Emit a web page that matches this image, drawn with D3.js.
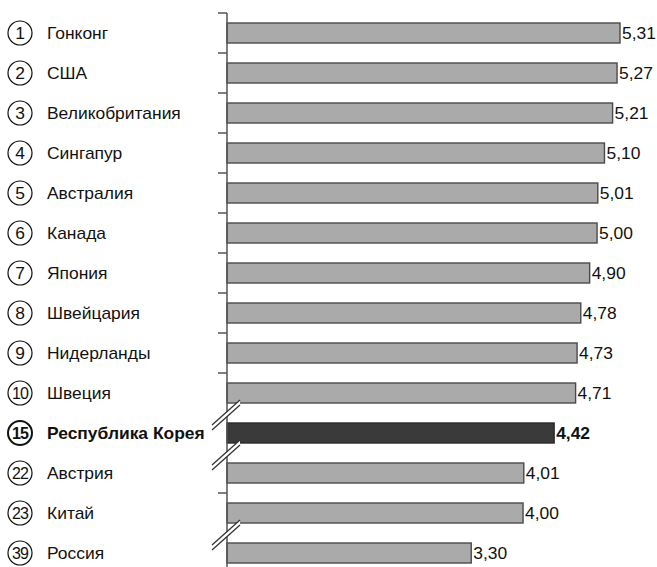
<!DOCTYPE html>
<html>
<head>
<meta charset="utf-8">
<script src="https://cdn.jsdelivr.net/npm/d3@7"></script>
<style>
body { margin: 0; background: #fff; }
svg { display: block; font-family: "Liberation Sans", Arial, sans-serif; }
</style>
</head>
<body>
<svg id="chart" width="657" height="567"></svg>
<script>
// данные
var ranks = ['1','2','3','4','5','6','7','8','9','10','15','22','23','39'];
var countries = ['Гонконг','США','Великобритания','Сингапур','Австралия','Канада','Япония',
    'Швейцария','Нидерланды','Швеция','Республика Корея','Австрия','Китай','Россия'];
var values = [5.31, 5.27, 5.21, 5.10, 5.01, 5.00, 4.90, 4.78, 4.73, 4.71, 4.42, 4.01, 4.00, 3.30];
var labels = ['5,31','5,27','5,21','5,10','5,01','5,00','4,90','4,78','4,73','4,71','4,42','4,01','4,00','3,30'];
var highlight = 'Республика Корея';
var breaksAfter = ['Швеция', 'Республика Корея', 'Китай'];

var stretch = 1.09;  // текст в оригинале чуть растянут по ширине
var svg = d3.select('#chart');
var x = d3.scaleLinear().domain([0, 5.31]).range([227, 620]);
var y = d3.scaleBand().domain(countries).range([13, 573]).paddingInner(0.5).paddingOuter(0.25);
var step = y.step();
var gap = (step - y.bandwidth()) / 2;

// бары
svg.append('g').selectAll('rect').data(countries).enter().append('rect')
    .attr('x', x(0))
    .attr('y', function(d){ return y(d); })
    .attr('width', function(d,i){ return x(values[i]) - x(0); })
    .attr('height', y.bandwidth())
    .style('fill', function(d){ return d == highlight ? '#3a3a3a' : '#aaaaaa'; })
    .style('stroke', function(d){ return d == highlight ? '#2a2a2a' : '#4a4a4a'; })
    .style('stroke-width', 1.4);

// ось
var axisX = x(0);
svg.append('line')
    .attr('x1', axisX).attr('x2', axisX)
    .attr('y1', y.range()[0]).attr('y2', y.range()[1])
    .style('stroke', '#555').style('stroke-width', 1.5);

svg.append('g').selectAll('line').data(countries).enter()
    .filter(function(d,i){ return i == 0 || breaksAfter.indexOf(countries[i-1]) < 0; })
    .append('line')
    .attr('x1', axisX - 9).attr('x2', axisX)
    .attr('y1', function(d){ return y(d) - gap; })
    .attr('y2', function(d){ return y(d) - gap; })
    .style('stroke', '#555').style('stroke-width', 1.5);

// разрывы
var brk = svg.append('g').selectAll('g').data(breaksAfter).enter().append('g')
    .attr('transform', function(d){
        var i = countries.indexOf(d);
        return 'translate(' + (axisX - 1) + ',' + (y(countries[i+1]) - gap + 2) + ')';
    });
brk.append('polygon')
    .attr('points', '-14,10 14,-15 14,-10 -14,15')
    .style('fill', '#fff');
brk.append('line').attr('x1', -14).attr('y1', 10).attr('x2', 14).attr('y2', -15)
    .style('stroke', '#333').style('stroke-width', 1.3);
brk.append('line').attr('x1', -14).attr('y1', 15).attr('x2', 14).attr('y2', -10)
    .style('stroke', '#333').style('stroke-width', 1.3);

// подписи значений
svg.append('g').selectAll('text').data(countries).enter().append('text')
    .attr('transform', function(d,i){
        return 'translate(' + (x(values[i]) + 2) + ',' + (y(d) + y.bandwidth() / 2 + 6) + ') scale(' + stretch + ',1)';
    })
    .style('font-size', '16px')
    .style('font-weight', function(d){ return d == highlight ? 'bold' : 'normal'; })
    .style('fill', '#111')
    .text(function(d,i){ return labels[i]; });

// подписи стран
var rows = svg.append('g').selectAll('g').data(countries).enter().append('g')
    .attr('transform', function(d){ return 'translate(0,' + (y(d) + y.bandwidth() / 2) + ')'; });
rows.append('circle')
    .attr('cx', 20).attr('cy', 0).attr('r', 12)
    .style('fill', 'none').style('stroke', '#111')
    .style('stroke-width', function(d){ return d == highlight ? 2 : 1.2; });
rows.append('text')
    .attr('transform', function(d,i){ return 'translate(20,6) scale(' + (ranks[i].length > 1 ? 1 : stretch) + ',1)'; })
    .attr('text-anchor', 'middle')
    .style('font-size', '16px')
    .style('letter-spacing', function(d,i){ return ranks[i].length > 1 ? '-1px' : '0'; })
    .style('font-weight', function(d){ return d == highlight ? 'bold' : 'normal'; })
    .style('fill', '#111')
    .text(function(d,i){ return ranks[i]; });
rows.append('text')
    .attr('transform', 'translate(47,6) scale(' + stretch + ',1)')
    .style('font-size', '16px')
    .style('font-weight', function(d){ return d == highlight ? 'bold' : 'normal'; })
    .style('fill', '#111')
    .text(function(d){ return d; });
</script>
</body>
</html>
